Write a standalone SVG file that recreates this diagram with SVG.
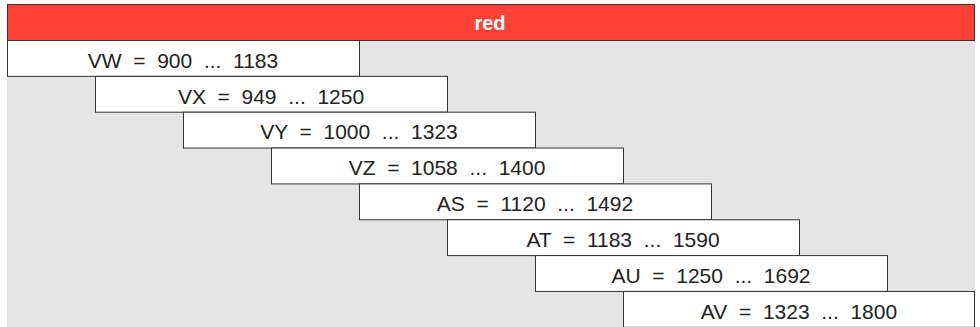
<svg xmlns="http://www.w3.org/2000/svg" width="980" height="327" viewBox="0 0 980 327">
<style>
.bg{fill:#e5e5e5;stroke:none}
.hdr{fill:#ff4136;stroke:#4a2a28;stroke-width:1}
.hdrt{font-family:"Liberation Sans",Arial,sans-serif;font-size:20px;font-weight:bold;fill:#ffffff;text-anchor:middle}
.box{fill:#ffffff;stroke:#333333;stroke-width:1}
.lbl{font-family:"Liberation Sans",Arial,sans-serif;font-size:21px;fill:#222222;text-anchor:middle;white-space:pre}
</style>
<rect class="bg" x="7" y="41" width="968" height="286"/>
<g id="header">
<rect class="hdr" x="7.5" y="4.5" width="967" height="36"/>
<text class="hdrt" x="490" y="30">red</text>
</g>
<g id="connectors"></g>
<g id="VW"><rect class="box" x="7.5" y="40.5" width="352" height="35.85"/><text class="lbl" x="183" y="67.7" xml:space="preserve">VW  =  900  ...  1183</text></g>
<g id="VX"><rect class="box" x="95.5" y="76.35" width="352" height="35.85"/><text class="lbl" x="271" y="103.55" xml:space="preserve">VX  =  949  ...  1250</text></g>
<g id="VY"><rect class="box" x="183.5" y="112.2" width="352" height="35.85"/><text class="lbl" x="359" y="139.4" xml:space="preserve">VY  =  1000  ...  1323</text></g>
<g id="VZ"><rect class="box" x="271.5" y="148.05" width="352" height="35.85"/><text class="lbl" x="447" y="175.25" xml:space="preserve">VZ  =  1058  ...  1400</text></g>
<g id="AS"><rect class="box" x="359.5" y="183.9" width="352" height="35.85"/><text class="lbl" x="535" y="211.1" xml:space="preserve">AS  =  1120  ...  1492</text></g>
<g id="AT"><rect class="box" x="447.5" y="219.75" width="352" height="35.85"/><text class="lbl" x="623" y="246.95" xml:space="preserve">AT  =  1183  ...  1590</text></g>
<g id="AU"><rect class="box" x="535.5" y="255.6" width="352" height="35.85"/><text class="lbl" x="711" y="282.8" xml:space="preserve">AU  =  1250  ...  1692</text></g>
<g id="AV"><rect class="box" x="623.5" y="291.45" width="351" height="35.85"/><text class="lbl" x="799" y="318.65" xml:space="preserve">AV  =  1323  ...  1800</text></g>
</svg>
